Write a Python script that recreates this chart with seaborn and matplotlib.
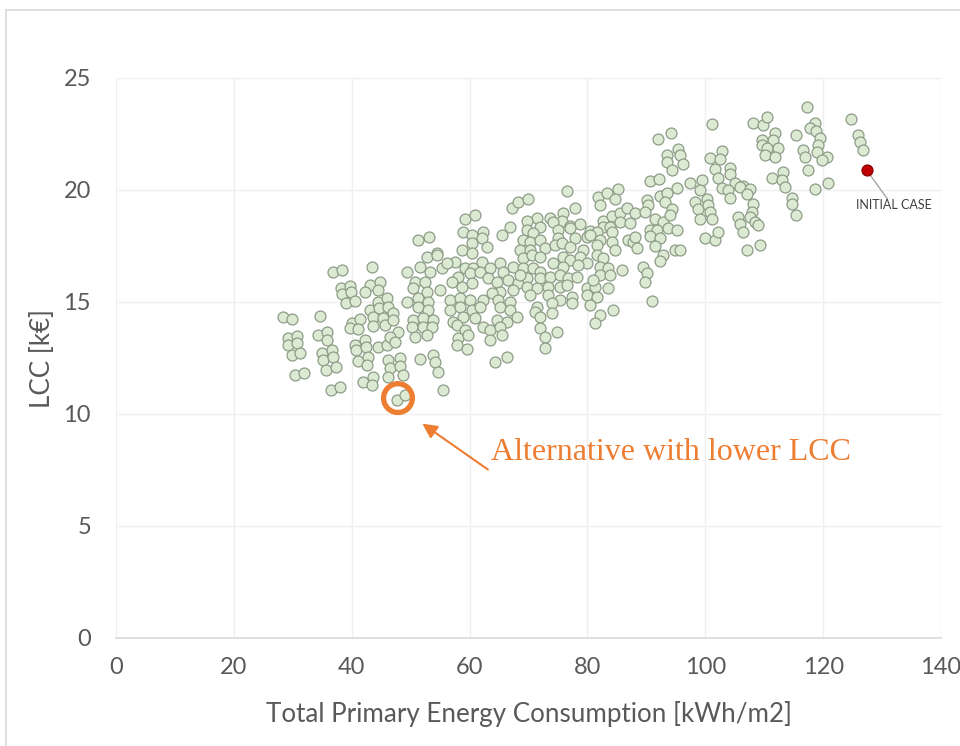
import matplotlib
matplotlib.use("Agg")
import matplotlib.pyplot as plt
import seaborn as sns
import pandas as pd
from matplotlib.patches import Rectangle

# ---- data ----
energy = [
    # ~28-50 kWh/m2
    36.8, 38.35, 43.44, 38.18, 39.71, 38.35, 39.88, 39.03, 40.56, 43.10, 44.80, 42.25, 44.46, 44.46, 45.99,
    43.10, 44.63, 46.16, 43.61, 45.31, 47.0, 40.05, 41.40, 39.71, 41.07, 43.61, 45.65, 47.0, 28.34, 29.87,
    34.62, 29.19, 30.71, 29.19, 30.71, 29.87, 31.22, 34.28, 35.81, 35.81, 34.96, 36.65, 35.13, 36.82, 35.64,
    37.33, 40.56, 42.25, 40.73, 42.42, 41.07, 42.76, 42.59, 44.46, 45.99, 47.85, 46.50, 47.34, 46.16, 48.19,
    46.50, 48.19, 46.16, 48.70, 30.37, 31.90, 36.48, 38.01, 41.91, 43.61, 43.44, 47.68, 49.04,
    # ~49-68
    59.22, 60.92, 67.20, 68.22, 51.25, 53.11, 58.88, 60.41, 62.28, 62.11, 62.96, 60.41, 65.50, 66.86, 54.47,
    52.77, 54.47, 58.71, 60.41, 51.59, 53.28, 55.32, 57.53, 56.17, 49.38, 59.22, 60.58, 62.11, 63.47, 65.16,
    65.67, 67.37, 58.03, 60.07, 61.77, 63.13, 50.74, 52.44, 54.98, 57.02, 58.71, 60.41, 64.65, 66.52, 68.22,
    50.40, 52.77, 65.16, 67.37, 49.38, 51.25, 52.94, 56.68, 58.37, 60.07, 62.28, 63.80, 64.82, 66.86, 51.25,
    52.94, 56.68, 58.37, 60.41, 61.77, 65.16, 66.86, 50.40, 52.10, 53.79, 57.19, 58.88, 60.92, 64.65, 66.35,
    68.05, 50.23, 52.10, 53.62, 57.87, 59.22, 62.28, 63.47, 65.16, 50.74, 52.77, 58.03, 59.73, 63.47, 65.50,
    57.87, 59.56, 51.59, 53.79, 54.13, 54.64, 64.31, 66.35, 55.49,
    # ~68-91
    76.53, 69.91, 81.79, 83.32, 85.19, 84.68, 82.13, 77.89, 75.85, 71.44, 73.65, 75.68, 69.74, 77.04, 78.74,
    80.43, 82.64, 84.17, 85.53, 86.71, 88.07, 71.95, 74.16, 75.0, 77.04, 82.64, 83.83, 85.53, 87.22, 69.74,
    70.76, 69.06, 70.25, 71.95, 75.0, 77.89, 79.93, 81.62, 82.13, 84.17, 84.17, 86.88, 87.73, 88.41, 72.80,
    74.50, 75.68, 77.04, 79.25, 81.62, 68.56, 70.25, 84.68, 69.06, 70.59, 71.95, 75.85, 77.04, 78.74, 81.62,
    82.64, 74.16, 75.85, 79.93, 78.40, 82.13, 83.49, 85.87, 69.06, 70.76, 71.95, 69.74, 71.95, 73.65, 75.34,
    76.70, 82.13, 83.83, 68.56, 89.43, 90.11, 69.74, 71.44, 73.31, 75.34, 76.53, 79.93, 81.28, 83.49, 89.77,
    70.25, 73.31, 75.34, 77.38, 79.93, 81.62, 80.43, 71.44, 73.99, 71.10, 73.99, 84.34, 82.13, 81.28, 71.95,
    71.95, 74.83, 72.80, 72.80, 80.43, 80.94, 78.23, 77.38, 90.96, 88.07,
    # ~90-110
    101.14, 91.97, 94.18, 93.50, 95.37, 95.71, 93.50, 96.22, 94.35, 90.62, 92.14, 95.20, 97.40, 99.44, 99.10,
    90.11, 90.28, 92.31, 93.50, 93.16, 89.77, 91.46, 92.82, 94.35, 94.01, 90.62, 91.80, 93.67, 95.20, 90.62,
    92.31, 91.46, 92.82, 94.86, 95.71, 92.31, 98.25, 98.76, 100.29, 100.46, 100.80, 101.14, 99.10, 99.95,
    101.65, 102.16, 100.80, 102.83, 102.49, 101.65, 102.16, 104.19, 104.19, 102.83, 105.04, 106.40, 103.85,
    104.19, 105.89, 107.58, 107.08, 108.09, 107.92, 107.58, 108.43, 108.94, 105.55, 105.89, 106.40, 107.08,
    109.28, 108.09, 109.79, 110.47,
    # ~110-127
    117.26, 111.83, 111.49, 115.39, 118.62, 117.77, 118.78, 119.46, 119.12, 118.95, 109.62, 109.62, 110.47,
    112.34, 110.13, 111.83, 116.58, 116.92, 120.65, 119.80, 117.43, 113.18, 111.32, 113.01, 113.52, 120.82,
    118.62, 114.71, 114.71, 115.39, 124.72, 125.91, 126.25, 126.76,
]
lcc = [
    16.34, 16.43, 16.56, 15.63, 15.71, 15.36, 15.45, 14.96, 15.04, 15.76, 15.89, 15.45, 15.54, 15.0, 15.18,
    14.64, 14.73, 14.78, 14.33, 14.29, 14.51, 14.06, 14.24, 13.84, 13.79, 13.93, 13.97, 14.20, 14.33, 14.24,
    14.38, 13.39, 13.48, 13.08, 13.17, 12.63, 12.72, 13.52, 13.66, 13.30, 12.72, 12.86, 12.41, 12.54, 11.96,
    12.10, 13.08, 13.30, 12.86, 12.99, 12.37, 12.54, 12.19, 12.99, 13.08, 13.66, 13.44, 13.21, 12.41, 12.50,
    12.05, 12.14, 11.65, 11.74, 11.74, 11.83, 11.07, 11.21, 11.43, 11.65, 11.29, 10.63, 10.85,
    18.71, 18.88, 19.20, 19.46, 17.77, 17.90, 18.13, 17.99, 18.13, 17.86, 17.46, 17.63, 17.99, 18.35, 17.19,
    17.01, 17.10, 17.32, 17.19, 16.56, 16.34, 16.52, 16.79, 16.74, 16.34, 16.52, 16.52, 16.79, 16.52, 16.74,
    16.34, 16.56, 16.12, 16.29, 16.34, 16.07, 15.89, 15.89, 15.54, 15.89, 15.67, 15.85, 15.89, 15.98, 15.85,
    15.63, 15.45, 15.45, 15.54, 15.0, 15.18, 15.0, 15.09, 15.18, 15.09, 15.09, 15.40, 15.09, 15.0, 14.78,
    14.64, 14.64, 14.78, 14.64, 14.78, 14.78, 14.64, 14.20, 14.29, 14.20, 14.11, 14.33, 14.29, 14.20, 14.11,
    14.33, 13.88, 13.88, 13.88, 13.97, 13.75, 13.88, 13.75, 13.88, 13.44, 13.52, 13.39, 13.52, 13.30, 13.52,
    13.08, 12.90, 12.46, 12.63, 12.32, 11.88, 12.32, 12.54, 11.07,
    19.96, 19.60, 19.69, 19.87, 20.04, 19.60, 19.33, 19.20, 18.97, 18.75, 18.75, 18.62, 18.62, 18.39, 18.48,
    18.17, 18.62, 18.84, 18.97, 19.20, 18.97, 18.35, 18.57, 18.21, 18.30, 18.35, 18.35, 18.57, 18.53, 18.21,
    18.08, 17.77, 17.68, 17.77, 17.86, 17.86, 17.90, 18.13, 17.77, 18.13, 17.68, 17.77, 17.68, 17.41, 17.41,
    17.54, 17.63, 17.46, 17.32, 17.54, 17.32, 17.32, 17.32, 16.96, 17.10, 17.01, 17.01, 16.88, 17.01, 17.10,
    16.96, 16.74, 16.56, 16.74, 16.65, 16.56, 16.52, 16.43, 16.52, 16.52, 16.34, 16.07, 16.07, 16.12, 16.21,
    16.07, 16.21, 16.21, 16.21, 16.56, 16.29, 15.67, 15.63, 15.67, 15.67, 15.76, 15.63, 15.67, 15.63, 15.89,
    15.31, 15.31, 15.09, 15.22, 15.31, 15.22, 14.87, 14.78, 14.96, 14.55, 14.51, 14.64, 14.42, 14.06, 14.33,
    13.84, 13.66, 13.44, 12.95, 17.99, 15.98, 16.12, 14.96, 15.04, 17.90,
    22.94, 22.28, 22.54, 21.56, 21.83, 21.56, 21.25, 21.16, 20.89, 20.40, 20.49, 20.09, 20.31, 20.45, 20.0,
    19.55, 19.33, 19.73, 19.87, 19.46, 19.02, 18.71, 18.57, 19.15, 18.88, 18.21, 18.21, 18.30, 18.21, 17.95,
    17.86, 17.50, 17.10, 17.32, 17.32, 16.83, 19.46, 19.15, 19.60, 19.33, 19.02, 18.71, 18.71, 17.86,
    17.77, 18.13, 21.43, 21.74, 21.38, 20.94, 20.54, 20.98, 20.71, 20.09, 20.31, 20.18, 20.0,
    19.64, 20.13, 20.04, 19.82, 19.38, 19.02, 18.79, 18.57, 18.44, 18.79, 18.48, 18.13, 17.32,
    17.54, 22.99, 22.90, 23.26,
    23.71, 22.54, 22.23, 22.46, 22.99, 22.77, 22.63, 22.32, 22.01, 21.70, 22.23, 22.01, 21.88,
    21.88, 21.56, 21.47, 21.79, 21.47, 21.47, 21.34, 20.89, 20.80, 20.54, 20.45, 20.13, 20.31,
    20.04, 19.64, 19.38, 18.88, 23.17, 22.46, 22.14, 21.79,
]
initial_case_x = [127.4]
initial_case_y = [20.9]
best_x = [47.85]
best_y = [10.71]
x_ticks = [0, 20, 40, 60, 80, 100, 120, 140]
y_ticks = [0, 5, 10, 15, 20, 25]

df = pd.DataFrame({"energy": energy, "lcc": lcc})
df_init = pd.DataFrame({"energy": initial_case_x, "lcc": initial_case_y})
df_best = pd.DataFrame({"energy": best_x, "lcc": best_y})

sns.set_theme(style="white")
plt.rcParams["font.family"] = ["Lato", "DejaVu Sans"]

fig = plt.figure(figsize=(9.6, 7.46), dpi=100)
fig.patch.set_facecolor("white")
# outer light frame
fig.add_artist(Rectangle((6 / 960, -0.01), 1.0, 1 - 10 / 746 + 0.01, transform=fig.transFigure,
                         fill=False, edgecolor="#d9d9d9", linewidth=1.2))

ax = fig.add_axes([116 / 960, 1 - 638 / 746, (941 - 116) / 960, (638 - 78) / 746])
ax.set_facecolor("white")

sns.scatterplot(data=df, x="energy", y="lcc", ax=ax, s=62, color="#dcead4",
                edgecolor="#8c9c87", linewidth=0.9, zorder=3, legend=False)
sns.scatterplot(data=df_init, x="energy", y="lcc", ax=ax, s=62, color="#c00000",
                edgecolor="#8b0000", linewidth=0.9, zorder=4, legend=False)
sns.scatterplot(data=df_best, x="energy", y="lcc", ax=ax, s=430, facecolor="none",
                edgecolor="#ed7d31", linewidth=3.8, zorder=5, legend=False)

ax.set_xlim(0, 140)
ax.set_ylim(0, 25)
ax.set_xticks(x_ticks)
ax.set_yticks(y_ticks)
ax.grid(True, color="#efefef", linewidth=1.0, zorder=0)
ax.set_axisbelow(True)
for side in ["top", "right", "left"]:
    ax.spines[side].set_visible(False)
ax.spines["bottom"].set_color("#d9d9d9")
ax.spines["bottom"].set_linewidth(1.2)
ax.tick_params(axis="x", length=0, labelsize=17, labelcolor="#595959", pad=14)
ax.tick_params(axis="y", length=0, labelsize=17, labelcolor="#595959", pad=18)

ax.set_xlabel("Total Primary Energy Consumption [kWh/m2]", fontsize=18.7, color="#595959", labelpad=16)
ax.set_ylabel("LCC [k€]", fontsize=18.7, color="#595959", labelpad=6)

# annotations
ax.annotate("", xy=(51.6, 9.64), xytext=(63.5, 7.45),
            arrowprops=dict(arrowstyle="-|>", color="#ed7d31", lw=1.5, mutation_scale=22), zorder=6)
ax.text(63.6, 8.3, "Alternative with lower LCC", fontsize=23, color="#ed7d31",
        family=["Liberation Serif", "DejaVu Serif"], va="center", ha="left", zorder=6)

ax.plot([127.9, 130.9], [20.7, 19.6], color="#a6a6a6", linewidth=1.0, zorder=3)
ax.text(132.0, 19.33, "INITIAL CASE", fontsize=9, color="#404040", ha="center", va="center",
        family=["Lato", "DejaVu Sans"])

fig.savefig("out.png", dpi=100)
